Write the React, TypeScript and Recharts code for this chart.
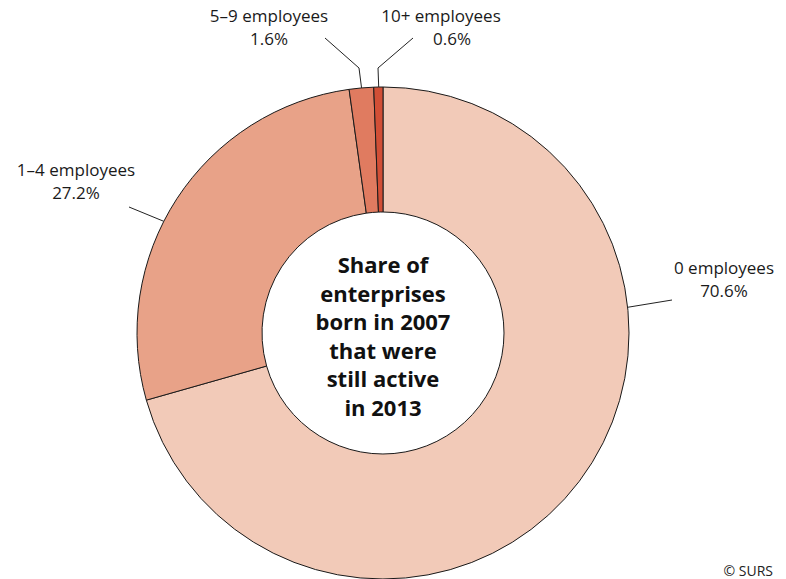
import { Cell, Pie, PieChart } from "recharts";

const CATEGORIES = ["0 employees", "1–4 employees", "5–9 employees", "10+ employees"];
const SHARES = [70.6, 27.2, 1.6, 0.6];
const CENTER_LINES = ["Share of", "enterprises", "born in 2007", "that were", "still active", "in 2013"];

const COLORS = ["#F2CAB8", "#E8A288", "#E07B60", "#D24F36"];
const FONT = "'Open Sans', 'Noto Sans', sans-serif";

// leader line layout per slice: angle on the rim (deg, clockwise from top), elbow + label position
const LABEL_LAYOUT = [
  { rimAngle: 84, path: [[672, 300]], tx: 724, ty: 274, pdx: 0 },
  { rimAngle: 297, path: [[129, 207]], tx: 76, ty: 176, pdx: 0 },
  { rimAngle: 355, path: [[359, 68], [325, 38]], tx: 269, ty: 22, pdx: 0 },
  { rimAngle: 359, path: [[378, 68], [413, 38]], tx: 441, ty: 22, pdx: 11 },
];

const data = CATEGORIES.map((name, i) => ({ name, value: SHARES[i] }));

const CX = 383;
const CY = 333;
const OUTER = 246;
const INNER = 121;

function renderLabel(props: any) {
  const { index, cx, cy, outerRadius } = props;
  const lay = LABEL_LAYOUT[index];
  const a = (lay.rimAngle * Math.PI) / 180;
  const sx = cx + outerRadius * Math.sin(a);
  const sy = cy - outerRadius * Math.cos(a);
  const pts = [[sx, sy], ...lay.path].map((p) => p.join(",")).join(" ");
  return (
    <g key={`lbl-${index}`}>
      <polyline points={pts} fill="none" stroke="#222" strokeWidth={1} />
      <text x={lay.tx} y={lay.ty} textAnchor="middle" fontFamily={FONT} fontSize={17} fill="#1a1a1a">
        <tspan x={lay.tx}>{CATEGORIES[index]}</tspan>
        <tspan x={lay.tx + lay.pdx} dy={23}>
          {SHARES[index].toFixed(1)}%
        </tspan>
      </text>
    </g>
  );
}

export default function App() {
  return (
    <div style={{ width: 786, height: 579, position: "relative", background: "#fff", overflow: "hidden" }}>
      <style>{`body{margin:0}`}</style>
      <PieChart width={786} height={579} margin={{ top: 0, right: 0, bottom: 0, left: 0 }} style={{ overflow: "visible" }}>
        <Pie
          data={data}
          dataKey="value"
          nameKey="name"
          cx={CX}
          cy={CY}
          innerRadius={INNER}
          outerRadius={OUTER}
          startAngle={90}
          endAngle={-270}
          stroke="#1a1a1a"
          strokeWidth={1}
          label={renderLabel}
          labelLine={false}
          isAnimationActive={false}
        >
          {data.map((entry, i) => (
            <Cell key={entry.name} fill={COLORS[i]} />
          ))}
        </Pie>
        <text x={CX} y={273} textAnchor="middle" fontFamily={FONT} fontSize={22} fontWeight={700} fill="#111">
          {CENTER_LINES.map((line, i) => (
            <tspan key={line} x={CX} dy={i === 0 ? 0 : 28.5}>
              {line}
            </tspan>
          ))}
        </text>
      </PieChart>
      <div
        style={{
          position: "absolute",
          right: 13,
          bottom: 0,
          fontFamily: FONT,
          fontSize: 14,
          lineHeight: "16px",
          color: "#222",
        }}
      >
        © SURS
      </div>
    </div>
  );
}
